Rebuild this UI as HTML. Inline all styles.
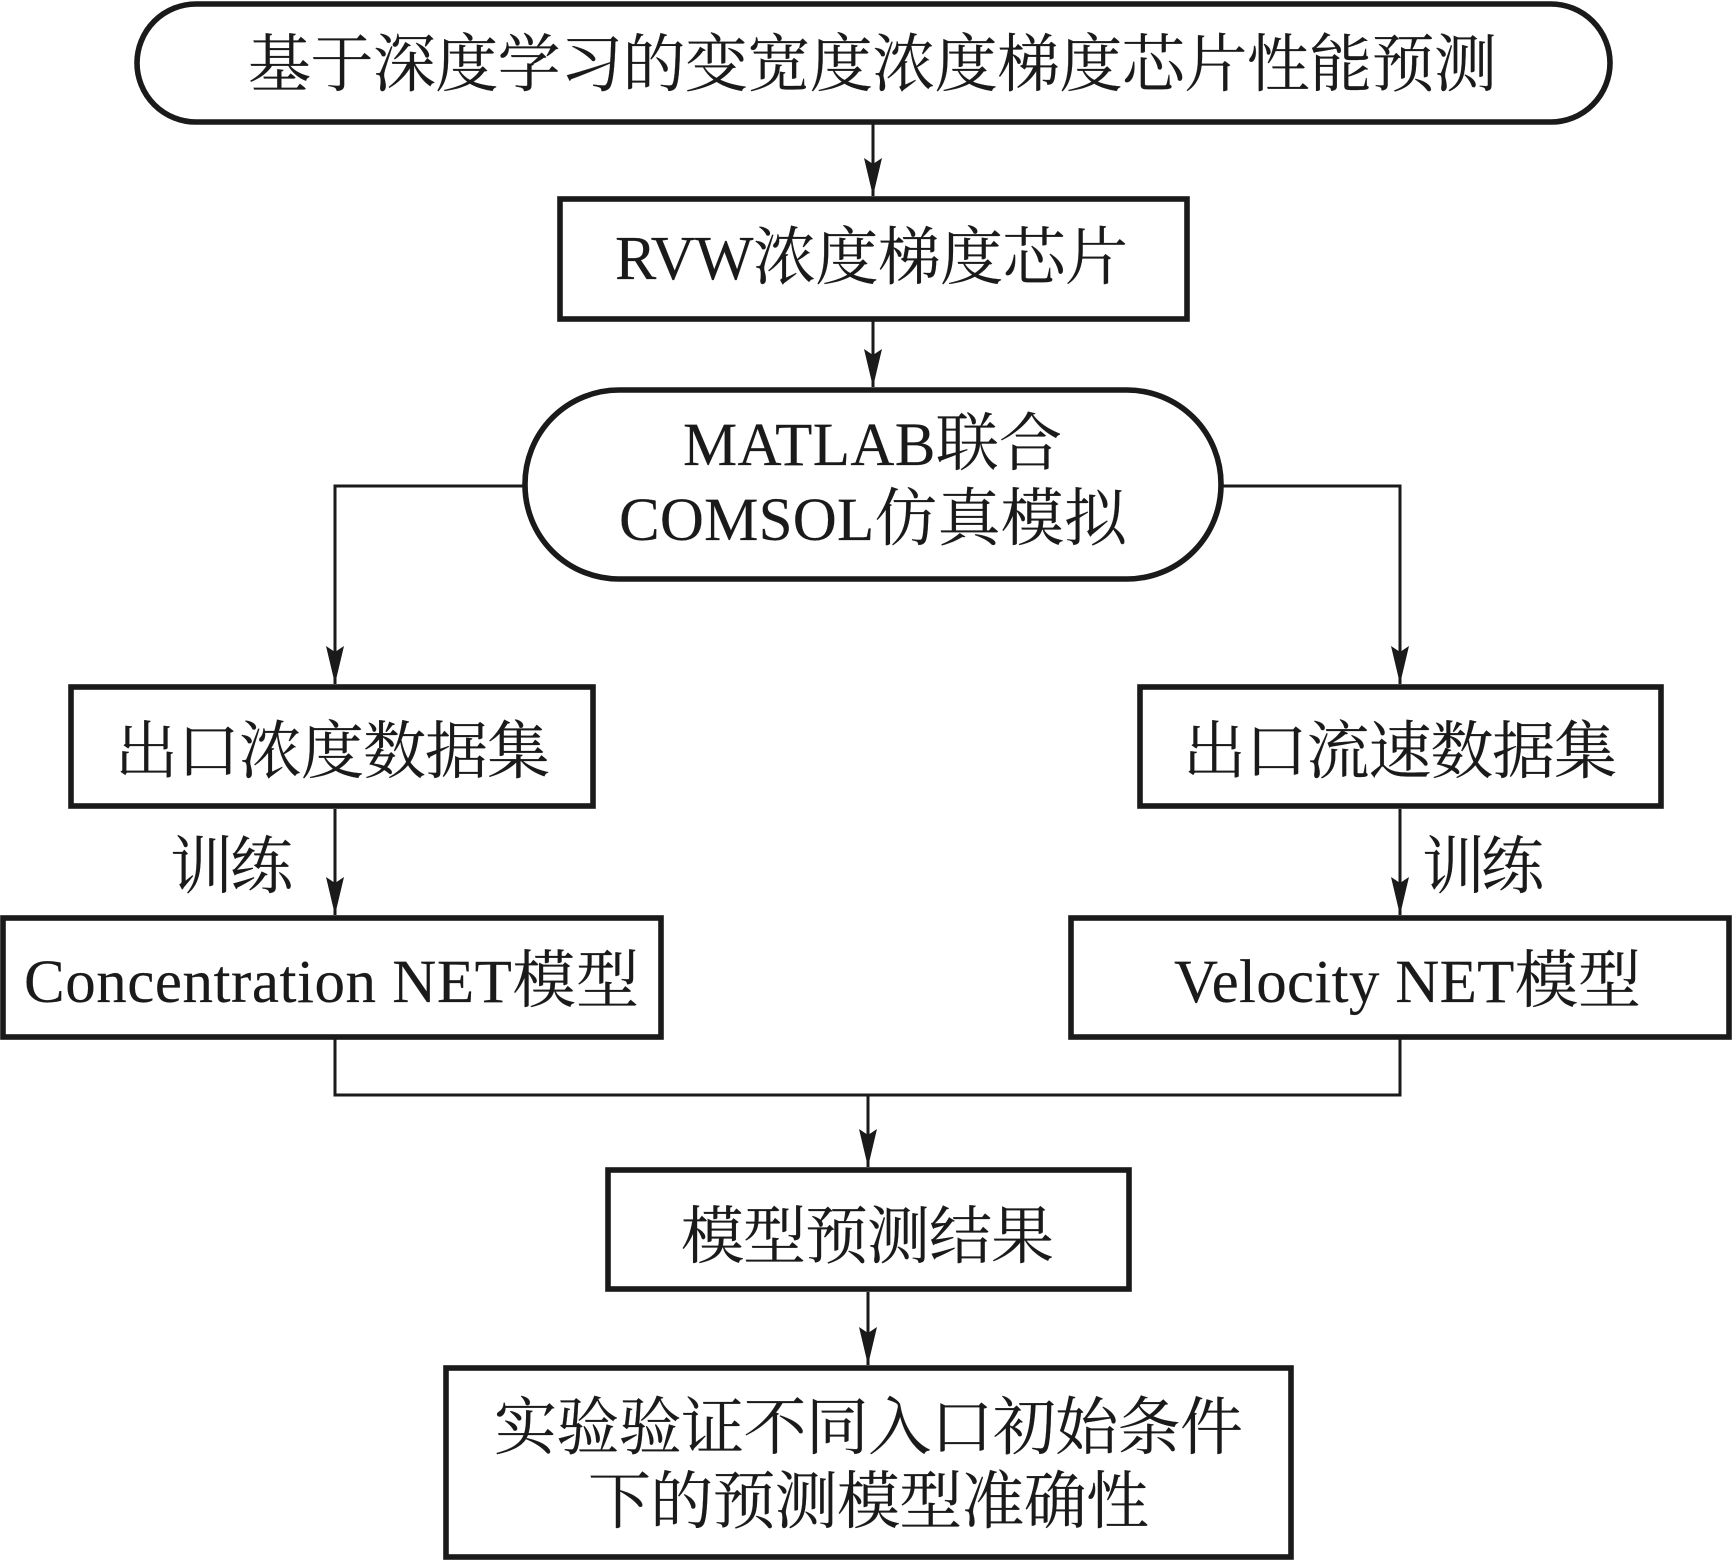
<!DOCTYPE html>
<html><head><meta charset="utf-8"><style>
html,body{margin:0;padding:0;background:#fff}
svg{display:block}
text{font-family:"Liberation Serif","Noto Serif CJK SC",serif;font-size:63px;fill:#1a1a1a;font-weight:400;stroke:#1a1a1a;stroke-width:.15}
.b{fill:#fff;stroke:#1a1a1a;stroke-width:5.6}
.l{fill:none;stroke:#1a1a1a;stroke-width:3}
.a{fill:#1a1a1a}
</style></head><body>
<svg width="1732" height="1561" viewBox="0 0 1732 1561" xmlns="http://www.w3.org/2000/svg">
<path class="l" d="M873 124V196M873 321V387M523 486H335V684M1223 486H1400V684M335 809V915M1400 809V915M335 1039V1095H1400V1039M868 1095V1167M868 1292V1365"/>
<path class="a" d="M873 196l-9-38 9 6 9-6zM873 387l-9-38 9 6 9-6zM335 684l-9-38 9 6 9-6zM1400 684l-9-38 9 6 9-6zM335 915l-9-38 9 6 9-6zM1400 915l-9-38 9 6 9-6zM868 1167l-9-38 9 6 9-6zM868 1365l-9-38 9 6 9-6z"/>
<rect class="b" x="137" y="4" width="1473" height="118" rx="59" ry="59"/>
<rect class="b" x="560" y="199" width="627" height="120"/>
<rect class="b" x="525" y="390" width="696" height="189" rx="94" ry="94"/>
<rect class="b" x="71" y="687" width="522" height="119"/>
<rect class="b" x="1140" y="687" width="521" height="119"/>
<rect class="b" x="3" y="918" width="658" height="119"/>
<rect class="b" x="1071" y="918" width="658" height="119"/>
<rect class="b" x="608" y="1170" width="521" height="119"/>
<rect class="b" x="446" y="1368" width="845" height="189"/>
<text x="248" y="86" textLength="1249">基于深度学习的变宽度浓度梯度芯片性能预测</text>
<text x="615" y="279" textLength="513"><tspan font-size="62">RVW</tspan>浓度梯度芯片</text>
<text x="683" y="465" textLength="379"><tspan font-size="61">MATLAB</tspan>联合</text>
<text x="619" y="540" textLength="508"><tspan font-size="61">COMSOL</tspan>仿真模拟</text>
<text x="115" y="773" textLength="435">出口浓度数据集</text>
<text x="1183" y="773" textLength="434">出口流速数据集</text>
<text x="170" y="888" textLength="123">训练</text>
<text x="1422" y="888" textLength="122">训练</text>
<text x="24" y="1002" textLength="615"><tspan font-size="61">Concentration NET</tspan>模型</text>
<text x="1174" y="1002" textLength="467"><tspan font-size="61">Velocity NET</tspan>模型</text>
<text x="681" y="1258" textLength="373">模型预测结果</text>
<text x="494" y="1449" textLength="749">实验验证不同入口初始条件</text>
<text x="588" y="1523" textLength="561">下的预测模型准确性</text>
</svg>
</body></html>
